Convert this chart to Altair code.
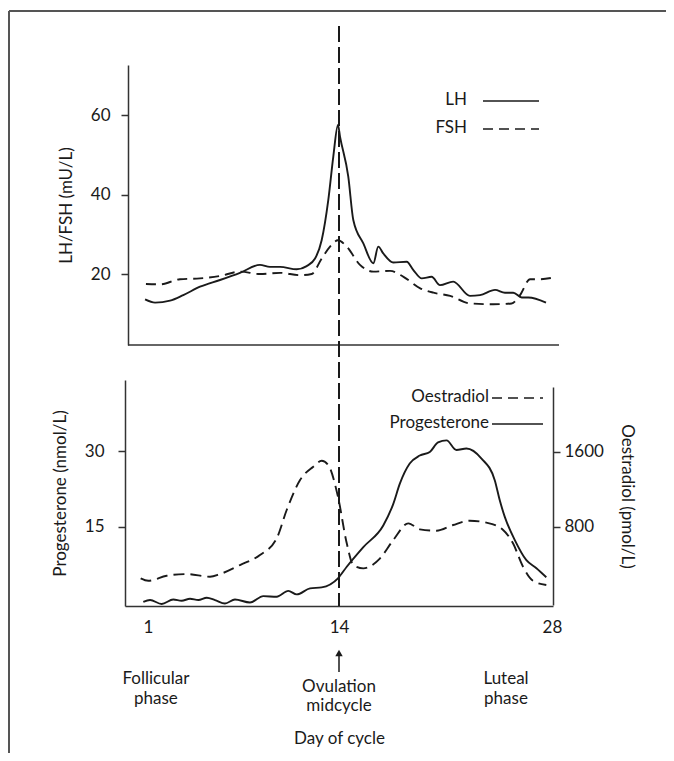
import altair as alt
import pandas as pd

# ---------------- data ----------------
lh_day = [0.8, 1.48, 2.5, 3.4, 4.54, 5.9, 7.26, 8.62, 9.3, 9.99, 11.12, 11.8, 12.37, 12.82,
          13.27, 13.61, 13.93, 14.07, 14.61, 14.94, 15.6, 16.26, 16.58, 16.91, 17.57, 18.45,
          18.89, 19.44, 20.09, 20.64, 21.51, 22.61, 23.27, 24.26, 24.91, 25.46, 26.01, 26.45, 27.61]
lh_val = [13.6, 12.8, 13.3, 14.7, 16.8, 18.5, 20.3, 22.3, 21.8, 21.8, 21.2, 22.0, 23.9, 28.5,
          38.6, 49.5, 57.5, 54.5, 44.5, 33.6, 27.7, 22.7, 26.9, 25.2, 22.9, 23.1,
          21.0, 18.9, 19.3, 17.2, 18.1, 14.5, 14.7, 16.0, 15.3, 15.3, 14.1, 14.1, 12.8]

fsh_day = [0.86, 1.82, 3.18, 4.54, 5.9, 7.26, 8.62, 9.99, 11.35, 12.14, 12.82, 13.39, 13.93,
           14.51, 15.38, 16.26, 17.36, 18.24, 19.34, 20.21, 21.31, 22.61, 24.15, 25.35, 25.9,
           26.56, 27.21, 28.2]
fsh_val = [17.5, 17.4, 18.7, 18.9, 19.5, 20.6, 20.0, 20.3, 19.7, 20.0, 23.9, 26.9, 28.5,
           26.9, 22.3, 20.6, 20.8, 19.3, 16.4, 15.3, 14.5, 12.6, 12.4, 12.6, 14.7,
           18.7, 18.7, 19.2]

prog_day = [0.68, 1.14, 1.93, 2.72, 3.29, 3.86, 4.43, 5.0, 5.56, 6.24, 6.92, 7.94, 8.85, 9.76,
            10.55, 11.12, 12.03, 12.82, 13.93, 14.51, 15.6, 16.91, 17.57, 18.0, 18.65, 19.31,
            19.97, 20.51, 21.07, 21.72, 22.38, 23.37, 24.24, 24.57, 24.9, 25.56, 26.32, 26.98, 27.63]
prog_val = [0.14, 0.48, -0.3, 0.6, 0.35, 0.74, 0.48, 0.94, 0.48, -0.2, 0.6, 0.0, 1.27, 1.13,
            2.3, 1.6, 2.8, 3.0, 4.8, 7.1, 11.0, 15.3, 19.6, 23.6, 27.6, 29.2,
            29.9, 31.8, 32.2, 30.3, 30.6, 28.6, 24.3, 20.3, 17.0, 12.4, 8.4, 6.8, 5.0]

oes_day = [0.5, 1.02, 2.27, 3.63, 5.22, 5.9, 7.26, 8.62, 9.76, 10.44, 11.35, 12.25, 12.82,
           13.27, 13.93, 14.51, 14.94, 15.6, 16.7, 17.57, 18.56, 19.31, 20.41, 21.5, 22.6,
           23.69, 24.79, 25.44, 26.1, 26.75, 27.63]
oes_val = [250, 224, 277, 295, 267, 295, 391, 498, 676, 978, 1298, 1440, 1504,
           1458, 1120, 623, 391, 356, 463, 658, 836, 772, 757, 818, 864,
           843, 765, 623, 373, 224, 178]

x_ticks = [1, 14, 28]
top_ticks = [20, 40, 60]
prog_ticks = [15, 30]
oes_ticks = [800, 1600]
ovulation_day = 14

annotations = [
    {"day": 1.54, "label": "Follicular\nphase", "row": "side"},
    {"day": 24.98, "label": "Luteal\nphase", "row": "side"},
    {"day": 14, "label": "Ovulation\nmidcycle", "row": "mid"},
]

# ---------------- styling ----------------
FONT = "Lato"
FS = 17
INK = "#1a1a1a"
AX = "#333333"

W, H = 428, 541

xs = alt.Scale(domain=[-0.566, 1, 14, 28.07], range=[0, 23, 214, 428], zero=False, nice=False)
xaxis = alt.Axis(values=x_ticks, title="Day of cycle", ticks=False, tickSize=0, grid=False,
                 labelPadding=13, titlePadding=95, domainColor=AX, domainWidth=1.5)


def X(field="day"):
    return alt.X(f"{field}:Q", scale=xs, axis=xaxis)


one = pd.DataFrame({"k": [0]})

# frame (top and left edges)
frame_top = alt.Chart(one).mark_rule(color="#555555", strokeWidth=2).encode(
    x=alt.value(-116), x2=alt.value(560), y=alt.value(-54))
frame_left = alt.Chart(one).mark_rule(color="#555555", strokeWidth=2).encode(
    x=alt.value(-116), y=alt.value(-54), y2=alt.value(720))

# top panel
top_scale = alt.Scale(domain=[2.14, 72.6], range=[280, 0], zero=False, nice=False)
lh_df = pd.DataFrame({"day": lh_day, "value": lh_val})
fsh_df = pd.DataFrame({"day": fsh_day, "value": fsh_val})

lh_line = alt.Chart(lh_df).mark_line(color=INK, strokeWidth=1.9, interpolate="monotone").encode(
    x=X(),
    y=alt.Y("value:Q", scale=top_scale,
            axis=alt.Axis(values=top_ticks, title="LH/FSH (mU/L)", orient="left", offset=-3,
                          tickSize=7, grid=False, labelPadding=11, titlePadding=15,
                          domainColor=AX, domainWidth=1.5, tickColor=AX, tickWidth=1.5)),
)
fsh_line = alt.Chart(fsh_df).mark_line(color=INK, strokeWidth=1.9, strokeDash=[10, 6],
                                       interpolate="monotone").encode(
    x=X(),
    y=alt.Y("value:Q", scale=top_scale, axis=None),
)
top_base = alt.Chart(one).mark_rule(color=AX, strokeWidth=1.5).encode(
    x=alt.value(3), x2=alt.value(434), y=alt.value(280))

# bottom panel
prog_scale = alt.Scale(domain=[-0.7, 44.2], range=[541, 315], zero=False, nice=False)
oes_scale = alt.Scale(domain=[-35, 2290], range=[540, 322], zero=False, nice=False)
prog_df = pd.DataFrame({"day": prog_day, "value": prog_val})
oes_df = pd.DataFrame({"day": oes_day, "value": oes_val})

prog_line = alt.Chart(prog_df).mark_line(color=INK, strokeWidth=1.9, interpolate="monotone").encode(
    x=X(),
    y=alt.Y("value:Q", scale=prog_scale,
            axis=alt.Axis(values=prog_ticks, title="Progesterone (nmol/L)", orient="left",
                          tickSize=7, grid=False, labelPadding=14, titlePadding=15,
                          domainColor=AX, domainWidth=1.5, tickColor=AX, tickWidth=1.5)),
)
oes_line = alt.Chart(oes_df).mark_line(color=INK, strokeWidth=1.9, strokeDash=[11, 6],
                                       interpolate="monotone").encode(
    x=X(),
    y=alt.Y("value:Q", scale=oes_scale,
            axis=alt.Axis(values=oes_ticks, format="d", title="Oestradiol (pmol/L)",
                          orient="right", tickSize=7, grid=False, labelPadding=4,
                          titlePadding=14, domainColor=AX, domainWidth=1.5,
                          tickColor=AX, tickWidth=1.5)),
)

# ovulation line
vline = alt.Chart(pd.DataFrame({"day": [ovulation_day]})).mark_rule(
    color=INK, strokeWidth=2, strokeDash=[16, 5]).encode(
    x=X(), y=alt.value(-39), y2=alt.value(541))

# legends (drawn manually: label left, line sample right)
def legend_item(label, y, x_text, x0, x1, dash):
    t = alt.Chart(one).mark_text(align="right", baseline="middle", font=FONT, fontSize=FS,
                                 color=INK, text=label).encode(x=alt.value(x_text), y=alt.value(y))
    kw = {"strokeDash": dash} if dash else {}
    r = alt.Chart(one).mark_rule(color=INK, strokeWidth=1.6, **kw).encode(
        x=alt.value(x0), x2=alt.value(x1), y=alt.value(y + 1))
    return [t, r]

legends = (legend_item("LH", 35, 342, 358, 414, None)
           + legend_item("FSH", 63, 342, 358, 414, [10, 6])
           + legend_item("Oestradiol", 332, 364, 367, 418, [10, 6])
           + legend_item("Progesterone", 358, 364, 367, 418, None))

# annotations below the axis
ann_df = pd.DataFrame(annotations)
ann_side = alt.Chart(ann_df[ann_df.row == "side"]).mark_text(
    baseline="top", font=FONT, fontSize=FS, color=INK, lineBreak="\n", lineHeight=20).encode(
    x=X(), y=alt.value(606), text="label:N")
ann_mid = alt.Chart(ann_df[ann_df.row == "mid"]).mark_text(
    baseline="top", font=FONT, fontSize=FS, color=INK, lineBreak="\n", lineHeight=19).encode(
    x=X(), y=alt.value(614), text="label:N")

arrow_df = pd.DataFrame({"day": [ovulation_day]})
arrow_shaft = alt.Chart(arrow_df).mark_rule(color=INK, strokeWidth=1.5).encode(
    x=X(), y=alt.value(591), y2=alt.value(607))
arrow_head = alt.Chart(arrow_df).mark_point(shape="triangle-up", filled=True, color=INK,
                                            size=55, opacity=1).encode(
    x=X(), y=alt.value(588))

chart = alt.layer(
    frame_top, frame_left,
    lh_line, fsh_line, top_base,
    prog_line, oes_line,
    vline, *legends,
    ann_side, ann_mid, arrow_shaft, arrow_head,
).resolve_scale(y="independent").properties(
    width=W, height=H,
    background="white",
    autosize=alt.AutoSizeParams(type="none"),
    padding={"left": 117, "top": 57, "right": 113, "bottom": 147},
).configure_view(strokeWidth=0).configure_axis(
    grid=False, labelFont=FONT, labelFontSize=FS, labelColor=INK,
    titleFont=FONT, titleFontSize=FS, titleFontWeight="normal", titleColor=INK,
)

chart.save("out.html", embed_options={"renderer": "svg", "actions": False})
